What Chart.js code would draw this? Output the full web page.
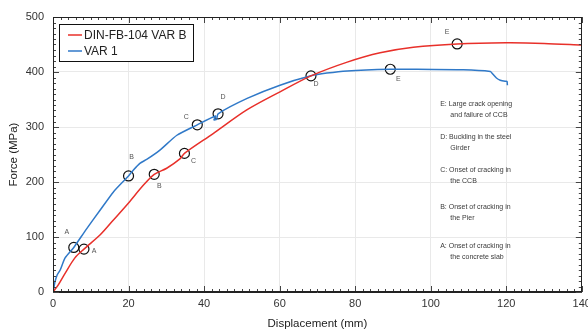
<!DOCTYPE html>
<html>
<head>
<meta charset="utf-8">
<script src="https://cdn.jsdelivr.net/npm/chart.js@4.4.0/dist/chart.umd.min.js"></script>
<style>
  body { margin: 0; background: #fff; }
  #wrap { width: 588px; height: 334px; }
</style>
</head>
<body>
<div id="wrap"><canvas id="grafico" width="588" height="334"></canvas></div>
<script>
// Curva DIN-FB-104 VAR B (deslocamento em mm, força em MPa)
var varBDesloc = [0, 1.4, 3.2, 5.8, 8.2, 12.5, 16, 20, 23.9, 26.8, 30.1, 33.6, 34.8, 42.4, 51.3, 60.1, 68.3, 77.9, 86.6, 95.4, 107, 120, 130, 140];
var varBForca  = [0, 13, 34, 62, 78, 104, 131, 162, 194, 214, 225, 242, 252, 288, 331, 364, 393, 418, 435, 445, 451, 453, 452, 449];

// Curva VAR 1
var var1Desloc = [0, 0.3, 0.5, 1.1, 1.9, 3.2, 5.5, 8.7, 12.5, 16, 20, 21.3, 23, 24.8, 28.3, 32.8, 38.2, 43.0, 42.6, 43.3, 43.7, 51.4, 60.1, 68.3, 72.5, 77.9, 89.3, 95.4, 108.6, 115.8, 116.2, 117.4, 118.4, 119.7, 120.2, 120.3];
var var1Forca  = [0, 10, 18, 31, 40, 62, 81, 113, 149, 182, 211, 222, 234, 241, 258, 285, 304, 320, 313, 314, 324, 352, 376, 393, 398, 402, 405, 405, 404, 401, 398, 389, 385, 383, 383, 376];

// Pontos marcados (círculos) e suas letras
var marcasDesloc = [5.5, 8.2, 20, 26.8, 38.2, 34.8, 43.7, 68.3, 89.3, 107];
var marcasForca  = [81, 78, 211, 214, 304, 252, 324, 393, 405, 451];
var marcasLetra  = ['A', 'A', 'B', 'B', 'C', 'C', 'D', 'D', 'E', 'E'];

// Notas explicativas à direita
var notasTexto = [
    ['E: Large crack opening', 'and failure of CCB'],
    ['D: Buckling in the steel', 'Girder'],
    ['C: Onset of cracking in', 'the CCB'],
    ['B: Onset of cracking in', 'the Pier'],
    ['A: Onset of cracking in', 'the concrete slab']
];
var notasForca = [342, 282, 222, 155, 84];

var ticksX = [0, 20, 40, 60, 80, 100, 120, 140];
var ticksY = [0, 100, 200, 300, 400, 500];

var corVermelha = '#e8302a';
var corAzul = '#3079c8';

function juntar(xs, ys) {
    var pts = [];
    for (let i = 0; i < xs.length; i++) pts.push({ x: xs[i], y: ys[i] });
    return pts;
}

// Desenha ticks menores, moldura, legenda, letras e notas
var extras = {
    id: 'extras',
    afterDraw: function(chart) {
        var ctx = chart.ctx;
        var area = chart.chartArea;
        var sx = chart.scales.x, sy = chart.scales.y;
        ctx.save();

        // ticks para dentro nos quatro lados
        ctx.strokeStyle = '#444';
        ctx.lineWidth = 1;
        ctx.beginPath();
        for (let i = 0; i <= 70; i++) {
            var px = Math.round(sx.getPixelForValue(i * 2)) + 0.5;
            var len = (i % 10 === 0) ? 6 : 3;
            ctx.moveTo(px, area.bottom); ctx.lineTo(px, area.bottom - len);
            ctx.moveTo(px, area.top); ctx.lineTo(px, area.top + len);
        }
        for (let i = 0; i <= 50; i++) {
            var py = Math.round(sy.getPixelForValue(i * 10)) + 0.5;
            var len2 = (i % 10 === 0) ? 6 : 3;
            ctx.moveTo(area.left, py); ctx.lineTo(area.left + len2, py);
            ctx.moveTo(area.right, py); ctx.lineTo(area.right - len2, py);
        }
        ctx.stroke();

        ctx.strokeStyle = '#222';
        ctx.strokeRect(Math.round(area.left) + 0.5, Math.round(area.top) + 0.5,
            Math.round(area.right - area.left) - 1, Math.round(area.bottom - area.top) - 1);

        // letras junto aos círculos
        var desloc = [[-7, -15], [10, 2], [3, -19], [5, 12], [-11, -8], [9, 8], [5, -17], [5, 8], [8, 10], [-10, -12]];
        var meta = chart.getDatasetMeta(2);
        ctx.fillStyle = '#555';
        ctx.font = '7px "Liberation Sans", Arial, sans-serif';
        ctx.textAlign = 'center';
        ctx.textBaseline = 'middle';
        meta.data.forEach(function(p, i) {
            ctx.fillText(marcasLetra[i], p.x + desloc[i][0], p.y + desloc[i][1]);
        });

        // notas
        ctx.fillStyle = '#3a3a3a';
        ctx.textAlign = 'left';
        notasTexto.forEach(function(linhas, i) {
            var y = sy.getPixelForValue(notasForca[i]);
            ctx.fillText(linhas[0], sx.getPixelForValue(102.5), y);
            ctx.fillText(linhas[1], sx.getPixelForValue(105.2), y + 11);
        });

        // legenda com moldura
        var lx = area.left + 6, ly = area.top + 7;
        ctx.fillStyle = '#fff';
        ctx.fillRect(lx, ly, 134, 37);
        ctx.strokeStyle = '#111';
        ctx.strokeRect(lx + 0.5, ly + 0.5, 134, 37);
        ctx.font = '12px "Liberation Sans", Arial, sans-serif';
        chart.data.datasets.slice(0, 2).forEach(function(ds, i) {
            var yy = ly + 11 + i * 16;
            ctx.strokeStyle = ds.borderColor;
            ctx.lineWidth = 1.5;
            ctx.beginPath();
            ctx.moveTo(lx + 9, yy); ctx.lineTo(lx + 23, yy);
            ctx.stroke();
            ctx.fillStyle = '#222';
            ctx.fillText(ds.label, lx + 25, yy + 1);
        });
        ctx.restore();
    }
};

var ctx = document.getElementById('grafico').getContext('2d');
var grafico = new Chart(ctx, {
    type: 'line',
    data: {
        datasets: [{
            label: 'DIN-FB-104 VAR B',
            data: juntar(varBDesloc, varBForca),
            borderColor: corVermelha,
            borderWidth: 1.5,
            pointRadius: 0,
            tension: 0.3
        }, {
            label: 'VAR 1',
            data: juntar(var1Desloc, var1Forca),
            borderColor: corAzul,
            borderWidth: 1.5,
            pointRadius: 0,
            tension: 0.2
        }, {
            label: 'marcas',
            data: juntar(marcasDesloc, marcasForca),
            showLine: false,
            pointRadius: 5,
            pointBorderWidth: 1.2,
            pointBorderColor: '#111',
            pointBackgroundColor: 'rgba(0,0,0,0)'
        }]
    },
    options: {
        responsive: false,
        animation: false,
        devicePixelRatio: 1,
        layout: { padding: { top: 17, right: 6, left: 0, bottom: 0 } },
        plugins: {
            legend: { display: false },
            tooltip: { enabled: false }
        },
        scales: {
            x: {
                type: 'linear',
                min: 0,
                max: 140,
                afterFit: function(s) { s.height = 42; s.paddingLeft = 0; s.paddingRight = 0; },
                afterBuildTicks: function(s) { s.ticks = ticksX.map(function(v) { return { value: v }; }); },
                ticks: { color: '#333', padding: 5, font: { size: 11, family: '"Liberation Sans", Arial, sans-serif' } },
                grid: { color: '#e9e9e9', drawTicks: false },
                border: { color: '#222' },
                title: {
                    display: true,
                    text: 'Displacement (mm)',
                    color: '#222',
                    padding: { top: 0, bottom: 3 },
                    font: { size: 11.5, family: '"Liberation Sans", Arial, sans-serif' }
                }
            },
            y: {
                min: 0,
                max: 500,
                afterFit: function(s) { s.width = 53; s.paddingTop = 0; s.paddingBottom = 0; },
                afterBuildTicks: function(s) { s.ticks = ticksY.map(function(v) { return { value: v }; }); },
                ticks: { color: '#333', padding: 9, font: { size: 11, family: '"Liberation Sans", Arial, sans-serif' } },
                grid: { color: '#e9e9e9', drawTicks: false },
                border: { color: '#222' },
                title: {
                    display: true,
                    text: 'Force (MPa)',
                    color: '#222',
                    padding: { top: 7, bottom: 0 },
                    font: { size: 11.5, family: '"Liberation Sans", Arial, sans-serif' }
                }
            }
        }
    },
    plugins: [extras]
});
</script>
</body>
</html>
